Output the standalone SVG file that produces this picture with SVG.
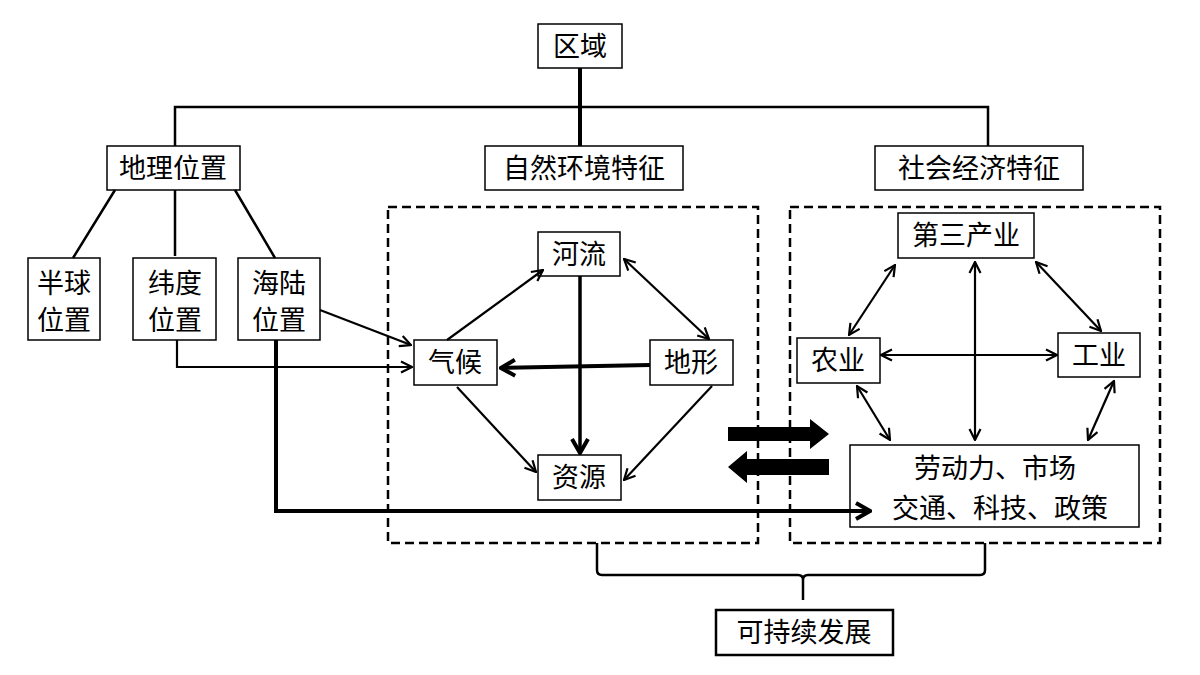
<svg xmlns="http://www.w3.org/2000/svg" width="1200" height="675" viewBox="0 0 1200 675">
<style>
.b{fill:#fff;stroke:#000;stroke-width:1.5}
.t{font-family:"Liberation Serif","Noto Sans CJK SC",serif;font-size:27px;text-anchor:middle;fill:#000}
.l{fill:none;stroke:#000;stroke-width:2.5}
.a{fill:none;stroke:#000;stroke-width:2.2;marker-end:url(#ah)}
.d{fill:none;stroke:#000;stroke-width:2.2;marker-end:url(#ah);marker-start:url(#as)}
.dash{fill:none;stroke:#000;stroke-width:2.5;stroke-dasharray:9 5}
</style>
<defs>
<marker id="ah" viewBox="0 0 14 14" refX="13" refY="7" markerWidth="14" markerHeight="14" orient="auto" markerUnits="userSpaceOnUse"><path d="M2,1.5 L13,7 L2,12.5" fill="none" stroke="#000" stroke-width="2.2"/></marker>
<marker id="as" viewBox="0 0 14 14" refX="1" refY="7" markerWidth="14" markerHeight="14" orient="auto" markerUnits="userSpaceOnUse"><path d="M12,1.5 L1,7 L12,12.5" fill="none" stroke="#000" stroke-width="2.2"/></marker>
<marker id="ahb" viewBox="0 0 20 20" refX="18" refY="10" markerWidth="20" markerHeight="20" orient="auto" markerUnits="userSpaceOnUse"><path d="M4,2 L18,10 L4,18" fill="none" stroke="#000" stroke-width="4"/></marker>
</defs>
<rect width="1200" height="675" fill="#fff"/>
<rect class="dash" x="388" y="207" width="370" height="336"/>
<rect class="dash" x="790" y="207" width="370" height="336"/>
<g id="n-quyu"><rect class="b" x="538" y="24" width="84" height="44"/><text class="t" x="580" y="56">区域</text></g>
<g id="n-dili"><rect class="b" x="107" y="146" width="133" height="44"/><text class="t" x="173" y="178">地理位置</text></g>
<g id="n-ziran"><rect class="b" x="485" y="146" width="198" height="44"/><text class="t" x="584" y="178">自然环境特征</text></g>
<g id="n-shehui"><rect class="b" x="875" y="146" width="208" height="44"/><text class="t" x="979" y="178">社会经济特征</text></g>
<g id="n-banqiu"><rect class="b" x="28" y="258" width="72" height="82"/><text class="t" x="64" y="293">半球</text><text class="t" x="64" y="330">位置</text></g>
<g id="n-weidu"><rect class="b" x="133" y="258" width="83" height="82"/><text class="t" x="175" y="293">纬度</text><text class="t" x="175" y="330">位置</text></g>
<g id="n-hailu"><rect class="b" x="238" y="258" width="82" height="82"/><text class="t" x="279" y="293">海陆</text><text class="t" x="279" y="330">位置</text></g>
<g id="n-heliu"><rect class="b" x="538" y="232" width="82" height="44"/><text class="t" x="579" y="264">河流</text></g>
<g id="n-qihou"><rect class="b" x="414" y="340" width="83" height="45"/><text class="t" x="455" y="372">气候</text></g>
<g id="n-dixing"><rect class="b" x="650" y="340" width="83" height="45"/><text class="t" x="691" y="372">地形</text></g>
<g id="n-ziyuan"><rect class="b" x="538" y="455" width="83" height="45"/><text class="t" x="579" y="487">资源</text></g>
<g id="n-disan"><rect class="b" x="898" y="213" width="136" height="45"/><text class="t" x="966" y="245">第三产业</text></g>
<g id="n-nongye"><rect class="b" x="797" y="338" width="83" height="45"/><text class="t" x="838" y="370">农业</text></g>
<g id="n-gongye"><rect class="b" x="1058" y="333" width="82" height="44"/><text class="t" x="1099" y="365">工业</text></g>
<g id="n-laodong"><rect class="b" x="850" y="445" width="289" height="82"/><text class="t" x="995" y="478">劳动力、市场</text><text class="t" x="1000" y="518">交通、科技、政策</text></g>
<g id="n-kechixu"><rect class="b" x="716" y="610" width="177" height="45" style="stroke-width:2.5"/><text class="t" x="804" y="642">可持续发展</text></g>
<g id="connectors">
<path class="l" d="M175,146 V107 H988 V146"/>
<path class="l" style="stroke-width:4" d="M580,68 V146"/>
<path class="l" d="M115,190 L73,258 M175,190 V256 M235,190 L275,258"/>
<path class="a" d="M177,340 V367 H412"/>
<path class="a" d="M320,310 L411,345"/>
<path class="a" style="stroke-width:4;marker-end:url(#ahb)" d="M276,340 V511 H870"/>
<path class="a" d="M447,340 L543,270"/>
<path class="d" d="M624,259 L709,339"/>
<path class="a" style="stroke-width:4;marker-end:url(#ahb)" d="M650,365 L501,368"/>
<path class="a" style="stroke-width:3.5;marker-end:url(#ahb)" d="M580,276 V453"/>
<path class="a" d="M457,387 L536,472"/>
<path class="a" d="M712,386 L624,480"/>
<path class="d" d="M895,265 L849,335"/>
<path class="d" d="M975,262 V440"/>
<path class="d" d="M1036,262 L1101,331"/>
<path class="d" d="M881,355 H1057"/>
<path class="d" d="M857,386 L890,440"/>
<path class="d" d="M1114,381 L1088,440"/>
<path d="M728,427 H810 V419 L829,434 L810,449 V441 H728 Z" fill="#000"/>
<path d="M829,459 H747 V451 L728,467 L747,483 V475 H829 Z" fill="#000"/>
<path class="l" d="M597,543 V570 Q597,575 602,575 H798 Q803,575 803,580 V600 M803,580 Q803,575 808,575 H980 Q985,575 985,570 V543"/>
</g>
</svg>
